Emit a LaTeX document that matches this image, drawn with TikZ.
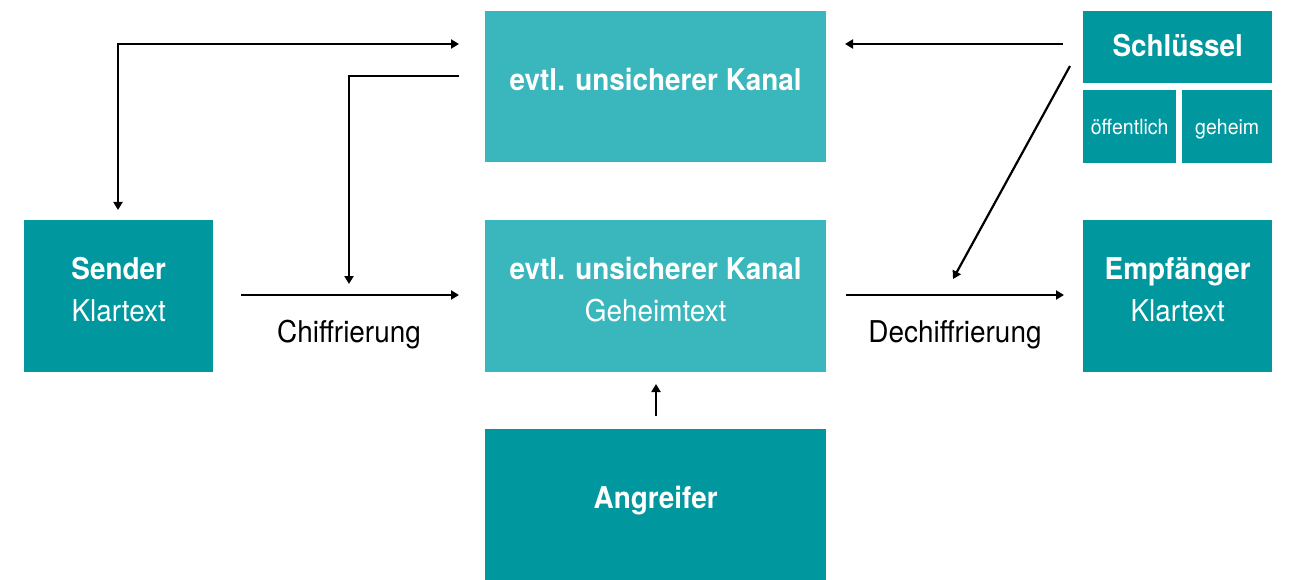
\documentclass[tikz,border=0pt]{standalone}
\usepackage{fontspec}
\setmainfont{TeX Gyre Heros}[FakeStretch=0.93]
\usetikzlibrary{arrows.meta,calc}
\definecolor{darkteal}{HTML}{00989E}
\definecolor{lightteal}{HTML}{3AB7BD}
\begin{document}
\begin{tikzpicture}[x=1pt,y=-1pt,
  box/.style={rectangle,inner sep=0pt,anchor=north west,text=white,align=center,
    font=\fontsize{30}{42}\selectfont,text depth=14pt},
  dark/.style={box,fill=darkteal},
  light/.style={box,fill=lightteal},
  small/.style={font=\fontsize{21}{25}\selectfont,text depth=0pt},
  conn/.style={line width=2.2pt,-{Triangle[length=8pt,width=9pt]}},
  lbl/.style={font=\fontsize{30}{36}\selectfont,anchor=base}]
\useasboundingbox (0,0) rectangle (1293,580);
% boxes
\node[dark,minimum width=189pt,minimum height=152pt] (snd) at (24,220) {\textbf{Sender}\\Klartext};
\node[light,minimum width=341pt,minimum height=151pt] (k1) at (485,11) {\textbf{evtl. unsicherer Kanal}};
\node[light,minimum width=341pt,minimum height=152pt] (k2) at (485,220) {\textbf{evtl. unsicherer Kanal}\\Geheimtext};
\node[dark,minimum width=341pt,minimum height=151pt] (ang) at (485,429) {\textbf{Angreifer}};
\node[dark,minimum width=189pt,minimum height=72pt,text depth=4pt] (schl) at (1083,11) {\textbf{Schlüssel}};
\node[dark,small,minimum width=93pt,minimum height=73pt] (oeff) at (1083,90) {öffentlich};
\node[dark,small,minimum width=90pt,minimum height=73pt] (geh) at (1182,90) {geheim};
\node[dark,minimum width=189pt,minimum height=152pt] (emp) at (1083,220) {\textbf{Empfänger}\\Klartext};
% coordinates
\coordinate (a1s) at (118,210);
\coordinate (a1e) at (459,44);
\coordinate (a2s) at (459,76);
\coordinate (a2e) at (349,284);
\coordinate (c1s) at (241,295);
\coordinate (c1e) at (459,295);
\coordinate (d1s) at (846,295);
\coordinate (d1e) at (1064,295);
\coordinate (s1s) at (1063,44);
\coordinate (s1e) at (845,44);
\coordinate (s2s) at (1070,66);
\coordinate (s2e) at (953,279);
\coordinate (g1s) at (656,416);
\coordinate (g1e) at (656,384);
% connectors
\draw[line width=2.2pt,{Triangle[length=8pt,width=9pt]}-{Triangle[length=8pt,width=9pt]}] (a1s) |- (a1e);
\draw[conn] (a2s) -| (a2e);
\draw[conn] (c1s) -- (c1e);
\draw[conn] (d1s) -- (d1e);
\draw[conn] (s1s) -- (s1e);
\draw[conn] (s2s) -- (s2e);
\draw[conn] (g1s) -- (g1e);
% labels
\node[lbl] (chif) at (349,342) {Chiffrierung};
\node[lbl] (dech) at (955,342) {Dechiffrierung};
\end{tikzpicture}
\end{document}
